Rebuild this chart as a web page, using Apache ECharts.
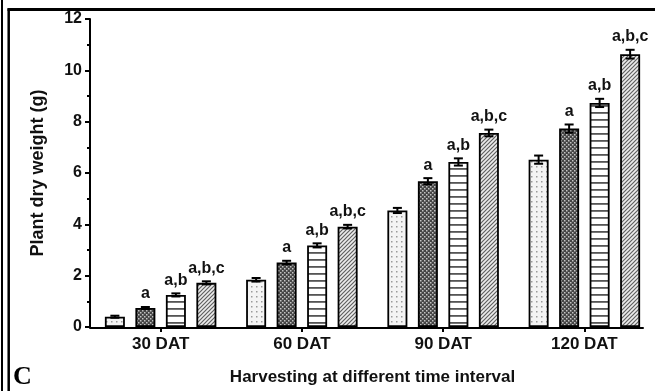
<!DOCTYPE html>
<html>
<head>
<meta charset="utf-8">
<script src="https://cdn.jsdelivr.net/npm/echarts@6/dist/echarts.min.js"></script>
<style>
html,body{margin:0;padding:0;background:#fff;}
#chart{width:655px;height:391px;}
</style>
</head>
<body>
<div id="chart"></div>
<script>
// ---- data ----
const categories = ['30 DAT', '60 DAT', '90 DAT', '120 DAT'];
const series1 = [0.40, 1.84, 4.54, 6.52];
const series2 = [0.74, 2.51, 5.68, 7.73];
const series3 = [1.25, 3.18, 6.43, 8.73];
const series4 = [1.72, 3.91, 7.56, 10.63];
const err1 = [0.04, 0.07, 0.10, 0.16];
const err2 = [0.04, 0.07, 0.12, 0.16];
const err3 = [0.06, 0.08, 0.14, 0.16];
const err4 = [0.06, 0.07, 0.13, 0.17];
const sig1 = ['', '', '', ''];
const sig2 = ['a', 'a', 'a', 'a'];
const sig3 = ['a,b', 'a,b', 'a,b', 'a,b'];
const sig4 = ['a,b,c', 'a,b,c', 'a,b,c', 'a,b,c'];
const yMin = 0, yMax = 12, yInterval = 2;
const xTitle = 'Harvesting at different time interval';
const yTitle = 'Plant dry weight (g)';
const panelLetter = 'C';

// ---- patterns ----
function mk(w, h, draw) {
  const c = document.createElement('canvas');
  c.width = w; c.height = h;
  draw(c.getContext('2d'));
  return { image: c, repeat: 'repeat' };
}
const patDots = mk(5, 5, g => {
  g.fillStyle = '#f4f4f4'; g.fillRect(0, 0, 5, 5);
  g.fillStyle = '#9a9a9a'; g.fillRect(1, 1, 1.5, 1.5);
});
const patCross = mk(4, 4, g => {
  g.fillStyle = '#454545'; g.fillRect(0, 0, 4, 4);
  g.fillStyle = '#c4c4c4'; g.fillRect(0, 0, 1.5, 1.5); g.fillRect(2, 2, 1.5, 1.5);
});
const patHoriz = mk(4, 7, g => {
  g.fillStyle = '#ffffff'; g.fillRect(0, 0, 4, 7);
  g.fillStyle = '#555555'; g.fillRect(0, 0, 4, 1.8);
});
const patDiag = mk(4, 4, g => {
  g.fillStyle = '#ececec'; g.fillRect(0, 0, 4, 4);
  g.strokeStyle = '#606060'; g.lineWidth = 1.2;
  g.beginPath();
  g.moveTo(-1, 5); g.lineTo(5, -1);
  g.moveTo(-1, 1); g.lineTo(1, -1);
  g.moveTo(3, 5); g.lineTo(5, 3);
  g.stroke();
});

const valueSets = [series1, series2, series3, series4];
const errSets = [err1, err2, err3, err4];
const sigSets = [sig1, sig2, sig3, sig4];
const fills = [patDots, patCross, patHoriz, patDiag];
const names = ['S1', 'S2', 'S3', 'S4'];

const BAR_W = 20, PITCH = 30.5;
const font = '"Liberation Sans", Arial, sans-serif';

const series = [];
valueSets.forEach((vals, s) => {
  series.push({
    type: 'bar', name: names[s], xAxisIndex: 0, yAxisIndex: 0,
    data: vals,
    barWidth: BAR_W, barGap: ((PITCH - BAR_W) / BAR_W * 100) + '%',
    itemStyle: { color: fills[s], borderColor: '#000', borderWidth: 1.8 },
    silent: true, animation: false
  });
});
valueSets.forEach((vals, s) => {
  const errs = errSets[s], sigs = sigSets[s];
  series.push({
    type: 'custom', xAxisIndex: 0, yAxisIndex: 0, z: 5,
    data: vals.map((v, i) => [i, v, errs[i]]),
    encode: { x: 0, y: 1 },
    animation: false, silent: true,
    renderItem: function (params, api) {
      const i = api.value(0), v = api.value(1), e = api.value(2);
      const off = (s - 1.5) * PITCH;
      const x = api.coord([i, v])[0] + off;
      const yT = api.coord([i, v + e])[1];
      const yB = api.coord([i, v - e])[1];
      const cap = 4.5;
      const st = { stroke: '#000', lineWidth: 2 };
      const children = [
        { type: 'line', shape: { x1: x, y1: yT, x2: x, y2: yB }, style: st },
        { type: 'line', shape: { x1: x - cap, y1: yT, x2: x + cap, y2: yT }, style: st },
        { type: 'line', shape: { x1: x - cap, y1: yB, x2: x + cap, y2: yB }, style: st }
      ];
      const lbl = sigs[params.dataIndex];
      if (lbl) {
        children.push({
          type: 'text',
          style: {
            x: x, y: yT - 5, text: lbl, fill: '#111',
            font: 'bold 16px ' + font, align: 'center', verticalAlign: 'bottom'
          }
        });
      }
      return { type: 'group', children: children };
    }
  });
});

const chart = echarts.init(document.getElementById('chart'), null, { renderer: 'canvas' });
chart.setOption({
  animation: false,
  backgroundColor: '#fff',
  grid: [
    { left: 90, top: 19, width: 568, height: 309, containLabel: false },
    { left: 90, top: 19, width: 553, height: 309, containLabel: false }
  ],
  xAxis: [
    {
      type: 'category', gridIndex: 0, data: categories,
      axisLine: { show: false },
      axisTick: { show: true, alignWithLabel: true, length: 5, inside: false, lineStyle: { color: '#000', width: 2 } },
      axisLabel: { color: '#111', fontSize: 17, fontWeight: 'bold', fontFamily: font, margin: 9 },
      name: xTitle, nameLocation: 'middle', nameGap: 42,
      nameTextStyle: { color: '#111', fontSize: 17, fontWeight: 'bold', fontFamily: font },
      splitLine: { show: false }
    },
    {
      type: 'value', gridIndex: 1, min: 0, max: 1,
      axisLine: { show: true, onZero: false, lineStyle: { color: '#000', width: 2 } },
      axisTick: { show: false }, axisLabel: { show: false }, splitLine: { show: false }
    }
  ],
  yAxis: [
    {
      type: 'value', gridIndex: 0, min: yMin, max: yMax, interval: yInterval,
      axisLine: { show: true, lineStyle: { color: '#000', width: 2 } },
      axisTick: { show: true, inside: false, length: 5, lineStyle: { color: '#000', width: 2 } },
      minorTick: { show: true, splitNumber: 2, length: 3, lineStyle: { color: '#000', width: 2 } },
      axisLabel: { color: '#111', fontSize: 16, fontWeight: 'bold', fontFamily: font, margin: 8 },
      splitLine: { show: false },
      name: yTitle, nameLocation: 'middle', nameGap: 43, nameRotate: 90,
      nameTextStyle: { color: '#111', fontSize: 18, fontWeight: 'bold', fontFamily: font }
    },
    {
      type: 'value', gridIndex: 1, min: 0, max: 1, show: false
    }
  ],
  graphic: [
    { type: 'line', shape: { x1: 2, y1: 0, x2: 2, y2: 391 }, style: { stroke: '#000', lineWidth: 2 } },
    { type: 'line', shape: { x1: 8.7, y1: 8.5, x2: 8.7, y2: 391 }, style: { stroke: '#000', lineWidth: 2.5 } },
    { type: 'line', shape: { x1: 7.5, y1: 9.5, x2: 655, y2: 9.5 }, style: { stroke: '#000', lineWidth: 2.8 } },
    { type: 'text', left: 13, top: 364, style: { text: panelLetter, fill: '#000', font: 'bold 26px "Liberation Serif", "Times New Roman", serif' } }
  ],
  series: series
});
</script>
</body>
</html>
